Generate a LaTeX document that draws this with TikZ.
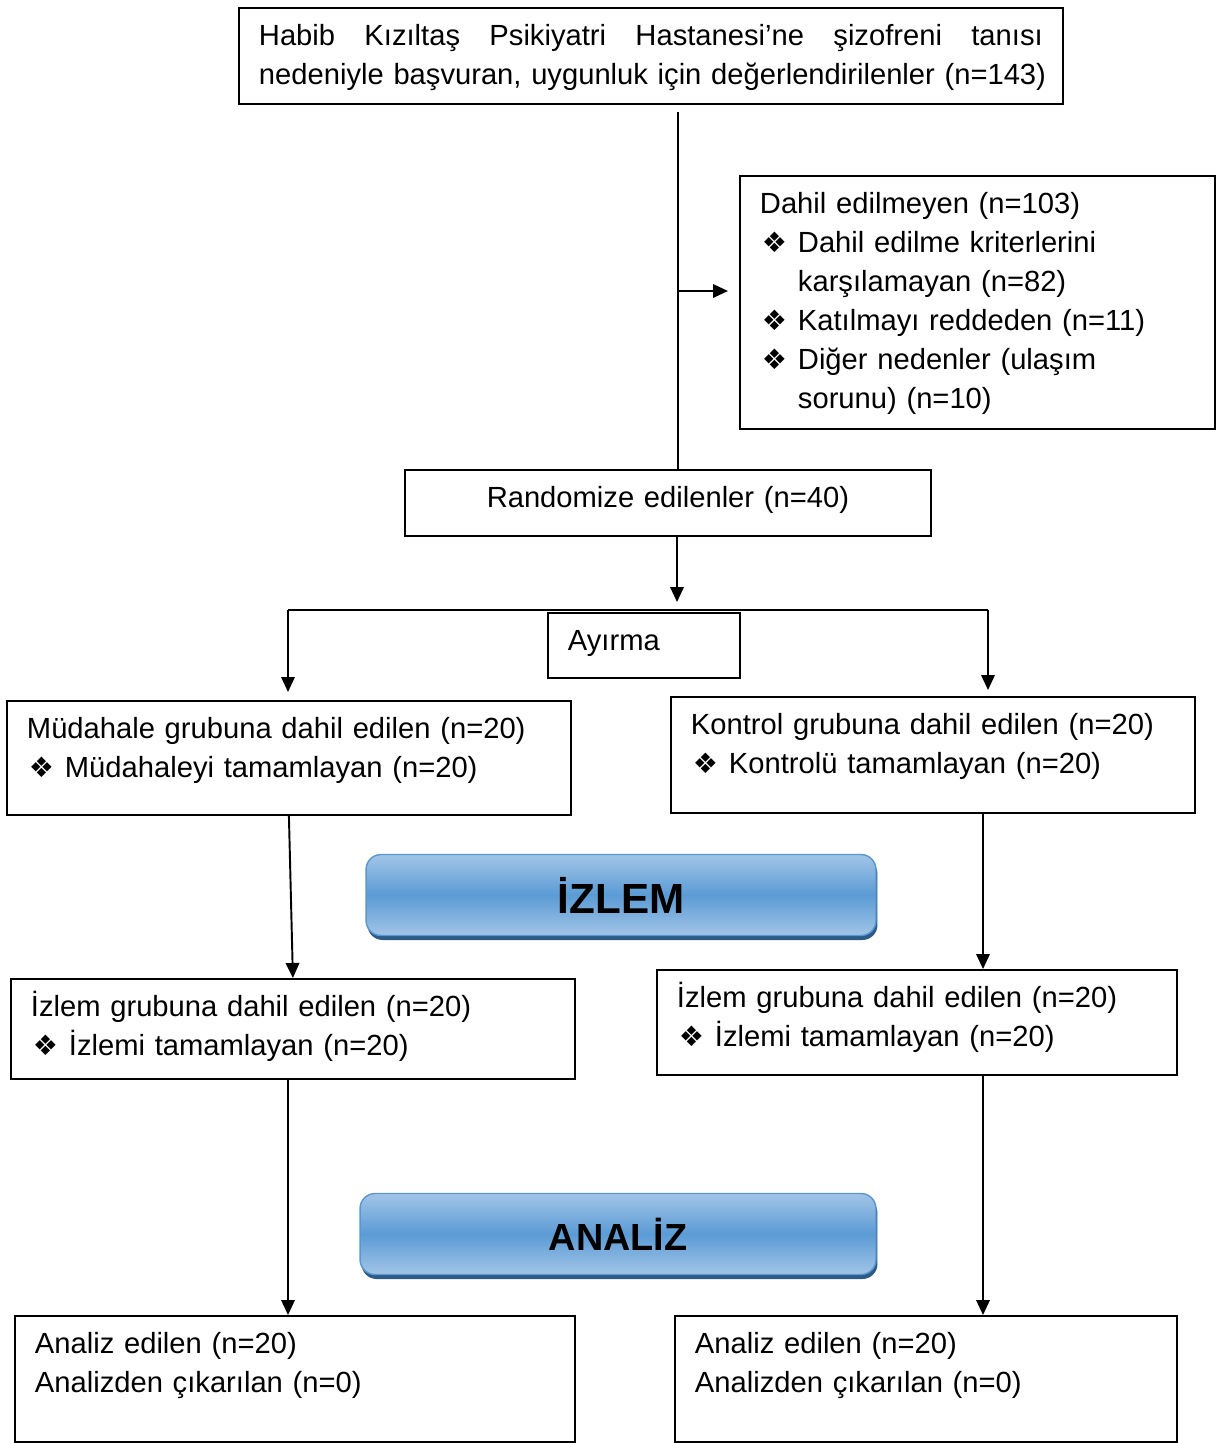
\documentclass[tikz,border=0pt]{standalone}
\usepackage{fontspec}
\setmainfont{Liberation Sans}
\newfontfamily\bulfont{DejaVu Sans}
\usetikzlibrary{arrows.meta,shadows}
\definecolor{btnlight}{HTML}{A2C5E7}
\definecolor{btnmid}{HTML}{5B9BD5}
\definecolor{btnedge}{HTML}{5A96CF}
\definecolor{btnshadow}{HTML}{2D5B88}
\newcommand{\bul}{\makebox[0.76cm][l]{\hspace{0.04cm}{\bulfont\fontsize{16}{16}\selectfont ❖}}}
\newcommand{\ind}{\hspace*{0.76cm}}
\begin{document}
\begin{tikzpicture}[x=0.02cm,y=-0.02cm,line width=1.1pt,
  box/.style={draw,anchor=north west,align=left,inner xsep=0.4cm,inner ysep=0pt,
    text height=0.76cm,font=\fontsize{16.6}{22.2}\selectfont},
  btn/.style={draw=btnedge,line width=0.8pt,rounded corners=0.3cm,
    top color=btnlight,bottom color=btnlight,middle color=btnmid,
    drop shadow={shadow xshift=0.03cm,shadow yshift=-0.09cm,fill=btnshadow,opacity=1},
    minimum height=1.62cm},
  arr/.style={-{Triangle[length=0.3cm,width=0.27cm]}}]
 \useasboundingbox (0,0) rectangle (1218,1443);
 % screening
 \node[box,text width=15.68cm,text depth=1.16cm] (top) at (238,7)
  {\makebox[15.68cm]{Habib\hfill Kızıltaş\hfill Psikiyatri\hfill Hastanesi’ne\hfill şizofreni\hfill tanısı}\\
   \mbox{nedeniyle başvuran, uygunluk için değerlendirilenler (n=143)}};
 \node[box,text width=8.7cm,text depth=4.3cm] (dahil) at (739,175)
  {Dahil edilmeyen (n=103)\\
   \bul Dahil edilme kriterlerini\\
   \ind karşılamayan (n=82)\\
   \bul Katılmayı reddeden (n=11)\\
   \bul Diğer nedenler (ulaşım\\
   \ind sorunu) (n=10)};
 \node[box,align=center,text width=9.72cm,text depth=0.56cm] (rand) at (404,469) {Randomize edilenler (n=40)};
 % allocation
 \coordinate (split) at (678,291);
 \coordinate (mid) at (677,610);
 \coordinate (barL) at (288,610);
 \coordinate (barR) at (988,610);
 \node[box,text width=3.04cm,text depth=0.54cm] (ayirma) at (547,612) {Ayırma};
 \node[box,text width=10.48cm,text depth=1.52cm] (mud) at (6,700)
  {Müdahale grubuna dahil edilen (n=20)\\ \bul Müdahaleyi tamamlayan (n=20)};
 \node[box,text width=9.68cm,text depth=1.56cm] (kon) at (670,696)
  {Kontrol grubuna dahil edilen (n=20)\\ \bul Kontrolü tamamlayan (n=20)};
 % follow-up
 \node[btn,minimum width=10.2cm,font=\fontsize{24}{24}\bfseries\selectfont] (izlem) at (621,895) {İZLEM};
 \node[box,text width=10.48cm,text depth=1.24cm] (izL) at (10,978)
  {İzlem grubuna dahil edilen (n=20)\\ \bul İzlemi tamamlayan (n=20)};
 \node[box,text width=9.6cm,text depth=1.34cm] (izR) at (656,969)
  {İzlem grubuna dahil edilen (n=20)\\ \bul İzlemi tamamlayan (n=20)};
 % analysis
 \node[btn,minimum width=10.32cm,font=\fontsize{21.5}{21.5}\bfseries\selectfont] (analiz) at (618,1234) {ANALİZ};
 \node[box,text width=10.4cm,text depth=1.76cm] (anL) at (14,1315)
  {Analiz edilen (n=20)\\ Analizden çıkarılan (n=0)};
 \node[box,text width=9.24cm,text depth=1.76cm] (anR) at (674,1315)
  {Analiz edilen (n=20)\\ Analizden çıkarılan (n=0)};
 \coordinate (laneL) at (288,0);
 \coordinate (laneR) at (983,0);
 % connectors
 \draw[shorten <=0.14cm] (top.south -| split) -- (rand.north -| split);
 \draw[arr,shorten >=0.22cm] (split) -- (dahil.west |- split);
 \draw[arr] (rand.south -| mid) -- ([yshift=0.16cm]mid);
 \draw (barL) -- (barR);
 \draw[arr,shorten >=0.16cm] (barL) -- (mud.north -| barL);
 \draw[arr,shorten >=0.12cm] (barR) -- (kon.north -| barR);
 \draw[arr] (mud.south) -- (izL.north);
 \draw[arr] (kon.south -| laneR) -- (izR.north -| laneR);
 \draw[arr] (izL.south -| laneL) -- (anL.north -| laneL);
 \draw[arr] (izR.south -| laneR) -- (anR.north -| laneR);
\end{tikzpicture}
\end{document}
